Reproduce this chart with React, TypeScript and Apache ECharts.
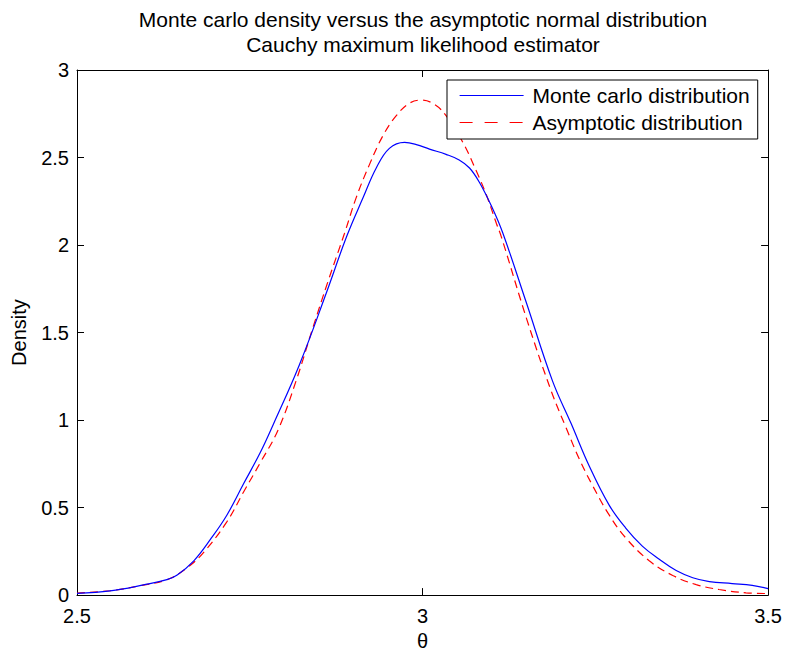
import React, { useEffect, useRef } from "react";
import * as echarts from "echarts";

const titleLines = [
  "Monte carlo density versus the asymptotic normal distribution",
  "Cauchy maximum likelihood estimator",
];
const seriesNames = ["Monte carlo distribution", "Asymptotic distribution"];
const xTicks = [2.5, 3, 3.5];
const yTicks = [0, 0.5, 1, 1.5, 2, 2.5, 3];

// Monte carlo density (blue)
const thetaMC = [
  2.5, 2.548, 2.596, 2.63, 2.645, 2.669, 2.693, 2.717, 2.741, 2.765, 2.784,
  2.822, 2.861, 2.89, 2.914, 2.933, 2.952, 2.974, 2.991, 3.01, 3.034, 3.053,
  3.068, 3.082, 3.1, 3.116, 3.15, 3.188, 3.215, 3.241, 3.27, 3.294, 3.318,
  3.342, 3.367, 3.391, 3.415, 3.448, 3.477, 3.5,
];
const densityMC = [
  0.01, 0.024, 0.058, 0.088, 0.115, 0.196, 0.318, 0.458, 0.636, 0.813, 0.975,
  1.318, 1.729, 2.047, 2.271, 2.44, 2.552, 2.586, 2.574, 2.548, 2.518, 2.486,
  2.44, 2.36, 2.22, 2.07, 1.673, 1.224, 0.98, 0.739, 0.514, 0.383, 0.28,
  0.206, 0.14, 0.099, 0.077, 0.066, 0.056, 0.037,
];

// Asymptotic normal density (red dashed)
const thetaAsym = [
  2.5, 2.548, 2.596, 2.63, 2.659, 2.683, 2.717, 2.741, 2.765, 2.791, 2.817,
  2.841, 2.863, 2.887, 2.904, 2.923, 2.943, 2.962, 2.981, 2.998, 3.017, 3.034,
  3.058, 3.078, 3.092, 3.107, 3.114, 3.152, 3.186, 3.208, 3.227, 3.246, 3.27,
  3.294, 3.328, 3.362, 3.396, 3.429, 3.468, 3.497,
];
const densityAsym = [
  0.012, 0.025, 0.057, 0.088, 0.155, 0.243, 0.42, 0.589, 0.755, 0.944, 1.224,
  1.524, 1.79, 2.066, 2.271, 2.458, 2.627, 2.739, 2.81, 2.828, 2.804, 2.739,
  2.589, 2.421, 2.29, 2.122, 2.047, 1.561, 1.168, 0.953, 0.776, 0.626, 0.458,
  0.327, 0.196, 0.112, 0.06, 0.032, 0.013, 0.009,
];

const FONT = "Liberation Sans";

export default function App() {
  const ref = useRef<HTMLDivElement>(null);
  useEffect(() => {
    if (!ref.current) return;
    const chart = echarts.init(ref.current, null, { renderer: "svg" });
    const mc = thetaMC.map((t, i) => [t, densityMC[i]]);
    const as = thetaAsym.map((t, i) => [t, densityAsym[i]]);
    const xMin = xTicks[0];
    const xMax = xTicks[xTicks.length - 1];
    const yMin = yTicks[0];
    const yMax = yTicks[yTicks.length - 1];
    const commonAxis = {
      axisLine: { show: true, onZero: false, lineStyle: { color: "#000", width: 1 } },
      axisTick: { show: true, inside: true, length: 7, lineStyle: { color: "#000" } },
      splitLine: { show: false },
    };
    chart.setOption({
      animation: false,
      backgroundColor: "#fff",
      textStyle: { fontFamily: FONT },
      title: {
        text: titleLines.join("\n"),
        left: 423,
        top: 7,
        padding: 0,
        textAlign: "center",
        textStyle: {
          fontFamily: FONT,
          fontWeight: "normal",
          fontSize: 21,
          lineHeight: 25,
          color: "#000",
        },
      },
      grid: { left: 77, right: 16, top: 70, bottom: 51, containLabel: false },
      legend: {
        data: [
          { name: seriesNames[0], lineStyle: { color: "#0000ff", width: 1.2, type: "solid" } },
          { name: seriesNames[1], lineStyle: { color: "#ff0000", width: 1.2, type: [13, 12] } },
        ],
        orient: "vertical",
        left: 447,
        top: 80,
        padding: [5, 8, 6, 12],
        itemGap: 6,
        itemWidth: 64,
        itemHeight: 14,
        itemStyle: { opacity: 0 },
        borderColor: "#000",
        borderWidth: 1,
        borderRadius: 0,
        backgroundColor: "#fff",
        textStyle: {
          fontFamily: FONT,
          fontSize: 21,
          lineHeight: 21,
          color: "#000",
          padding: [0, 0, 0, 4],
        },
      },
      xAxis: [
        {
          type: "value",
          min: xMin,
          max: xMax,
          interval: 0.5,
          position: "bottom",
          name: "θ",
          nameLocation: "middle",
          nameGap: 27,
          nameTextStyle: { fontFamily: FONT, fontSize: 20, color: "#000" },
          axisLabel: { show: true, color: "#000", fontSize: 20, fontFamily: FONT, margin: 11 },
          ...commonAxis,
        },
        {
          type: "value",
          min: xMin,
          max: xMax,
          interval: 0.5,
          position: "top",
          axisLabel: { show: false },
          ...commonAxis,
        },
      ],
      yAxis: [
        {
          type: "value",
          min: yMin,
          max: yMax,
          interval: 0.5,
          position: "left",
          name: "Density",
          nameLocation: "middle",
          nameGap: 48,
          nameTextStyle: { fontFamily: FONT, fontSize: 20, color: "#000" },
          axisLabel: { show: true, color: "#000", fontSize: 20, fontFamily: FONT, margin: 8 },
          ...commonAxis,
        },
        {
          type: "value",
          min: yMin,
          max: yMax,
          interval: 0.5,
          position: "right",
          axisLabel: { show: false },
          ...commonAxis,
        },
      ],
      series: [
        {
          name: seriesNames[0],
          type: "line",
          data: mc,
          xAxisIndex: 0,
          yAxisIndex: 0,
          symbol: "none",
          smooth: 0.4,
          color: "#0000ff",
          lineStyle: { color: "#0000ff", width: 1.2, type: "solid" },
          z: 3,
        },
        {
          name: seriesNames[1],
          type: "line",
          data: as,
          xAxisIndex: 0,
          yAxisIndex: 0,
          symbol: "none",
          smooth: 0.4,
          color: "#ff0000",
          lineStyle: { color: "#ff0000", width: 1.2, type: [8, 5] },
          z: 2,
        },
      ],
    });
    return () => chart.dispose();
  }, []);
  return (
    <div
      ref={ref}
      style={{ position: "absolute", left: 0, top: 0, width: 785, height: 656, background: "#fff" }}
    />
  );
}
